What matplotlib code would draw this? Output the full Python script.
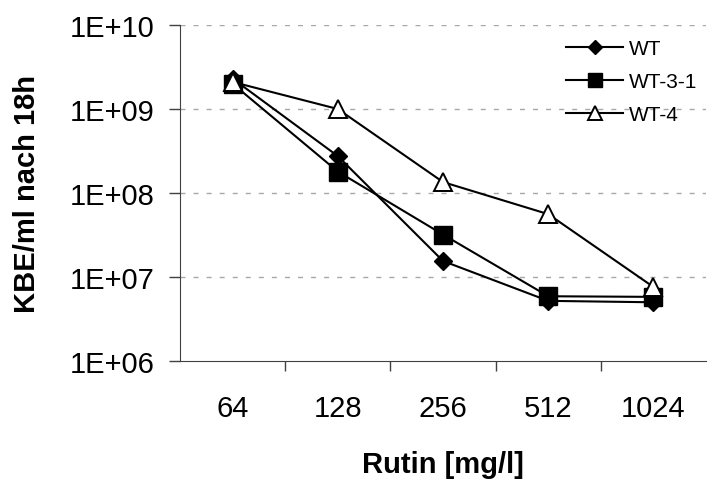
# Bacterial counts after 18h versus rutin concentration.

import numpy as np
from matplotlib import pyplot as plt
from matplotlib.ticker import FixedLocator

plt.rcParams["font.family"] = ["Liberation Sans", "DejaVu Sans"]

conc = ["64", "128", "256", "512", "1024"]
wt = [2.3e9, 2.75e8, 1.55e7, 5.2e6, 5.0e6]
wt_3_1 = [2.0e9, 1.8e8, 3.2e7, 5.9e6, 5.8e6]
wt_4 = [2.1e9, 1.0e9, 1.35e8, 5.6e7, 7.6e6]
y_ticks = [1e6, 1e7, 1e8, 1e9, 1e10]
y_labels = ["1E+06", "1E+07", "1E+08", "1E+09", "1E+10"]

fig = plt.figure(figsize=(7.1, 4.81), dpi=100)
ax = fig.add_axes([0.2535, 0.2474, 0.741, 0.6985])

x = np.arange(len(conc))
ax.plot(x, wt, color="black", lw=1.5, marker="D", ms=9, mfc="black", label="WT")
ax.plot(x, wt_3_1, color="black", lw=1.5, marker="s", ms=12.5, mfc="black", label="WT-3-1")
ax.plot(x, wt_4, color="black", lw=1.5, marker="^", ms=12.5, mfc="white",
        mew=1.4, label="WT-4")

ax.set_yscale("log")
ax.set_ylim(1e6, 1e10)
ax.set_yticks(y_ticks)
ax.set_yticklabels(y_labels)
ax.yaxis.set_minor_locator(FixedLocator([]))
ax.set_xlim(-0.5, len(conc) - 0.5)
ax.set_xticks(x)
ax.set_xticklabels(conc)
ax.xaxis.set_minor_locator(FixedLocator(np.arange(0.5, len(conc) - 0.5, 1)))
ax.tick_params(axis="x", which="major", length=0, pad=24, labelsize=21)
ax.tick_params(axis="x", which="minor", length=7.5, width=1, color="#404040")
ax.tick_params(axis="y", which="major", length=8, width=1, color="#404040",
               pad=10, labelsize=21)

for yv in y_ticks[1:]:
    ax.axhline(yv, color="#a8a8a8", lw=1, ls=(0, (3.6, 5.8)), zorder=0)

for s in ["top", "right"]:
    ax.spines[s].set_visible(False)
for s in ["left", "bottom"]:
    ax.spines[s].set_color("#404040")

ax.set_xlabel("Rutin [mg/l]", fontsize=21, fontweight="bold", labelpad=20)
ax.set_ylabel("KBE/ml nach 18h", fontsize=21, fontweight="bold", labelpad=21)

ax.legend(loc="upper right", bbox_to_anchor=(1.007, 0.995), frameon=False, fontsize=15,
          handlelength=2.7, handletextpad=0.3, labelspacing=0.67,
          borderaxespad=0.2, markerscale=0.75)

fig.savefig("out.png")
